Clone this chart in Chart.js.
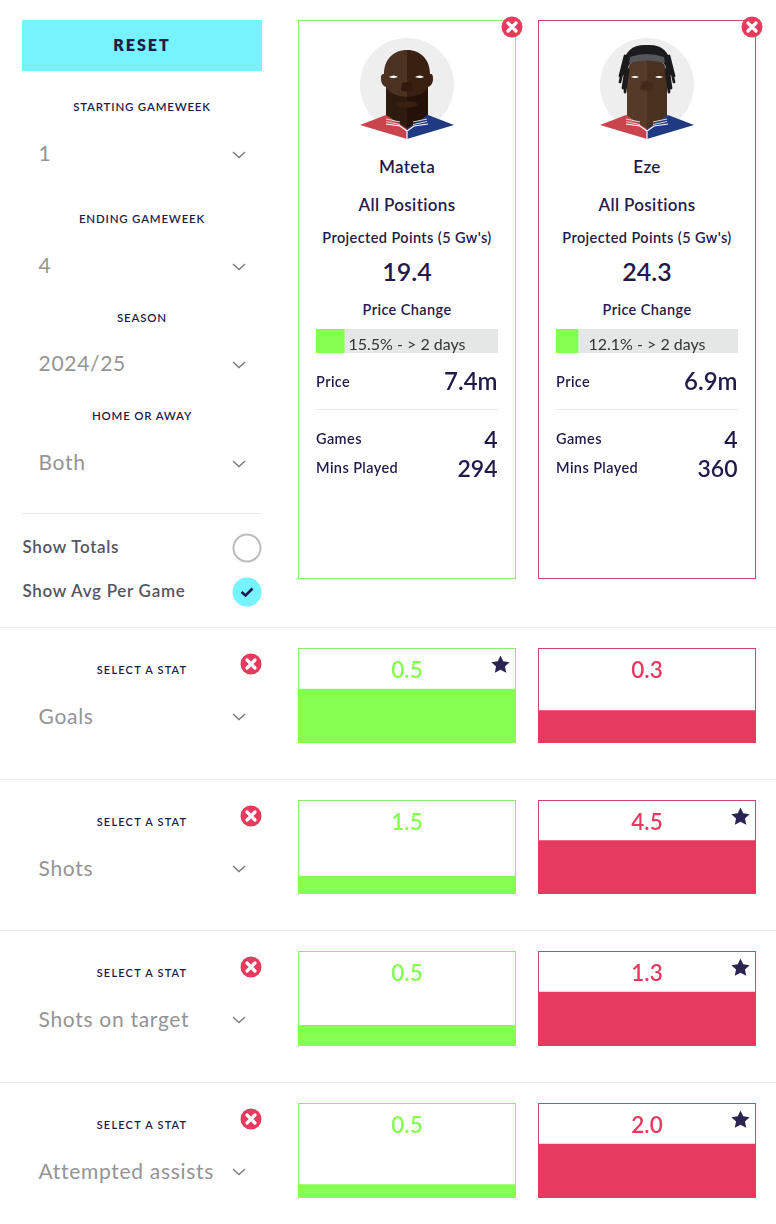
<!DOCTYPE html>
<html>
<head>
<meta charset="utf-8">
<title>Player comparison</title>
<script src="https://cdn.jsdelivr.net/npm/chart.js@4"></script>
<style>
  html, body { margin: 0; padding: 0; background: #fff; }
  #page { position: relative; width: 776px; height: 1224px; overflow: hidden; font-family: Lato, sans-serif; color: #1f1b4b; }
  .t { position: absolute; white-space: nowrap; transform: translateY(-50%); line-height: 1; }
  .c { transform: translate(-50%, -50%); }
  .r { transform: translate(-100%, -50%); }
  .cap { font-size: 11.5px; font-weight: 600; letter-spacing: .8px; }
  .capsm { font-size: 11px; font-weight: 600; letter-spacing: 1.2px; }
  .sel { font-size: 21px; color: #949494; letter-spacing: .7px; }
  .opt { font-size: 17px; font-weight: 600; color: #55555f; letter-spacing: .7px; }
  .name { font-size: 17px; font-weight: 600; letter-spacing: .35px; }
  .lbl { font-size: 14.5px; font-weight: 600; letter-spacing: .4px; }
  .big { font-size: 25px; font-weight: 600; }
  .mid { font-size: 24px; font-weight: 600; }
  .val { font-size: 23px; font-weight: 600; }
  .line { position: absolute; height: 1px; background: #e9e9e9; }
  .card { position: absolute; box-sizing: border-box; border: 1.5px solid; }
  .cell { position: absolute; box-sizing: border-box; border: 1.5px solid; }
  canvas { position: absolute; display: block; }
  svg { position: absolute; overflow: visible; }
</style>
</head>
<body>
<div id="page"></div>
<svg width="0" height="0" style="position:absolute">
  <defs>
    <symbol id="closeBtn" viewBox="0 0 22 22">
      <circle cx="11" cy="11" r="10.5" fill="#e63a5e"/>
      <path d="M7 7l8 8M15 7l-8 8" stroke="#fff" stroke-width="3.2" stroke-linecap="round"/>
    </symbol>
    <symbol id="star" viewBox="0 0 20 20">
      <path d="M10 .5l2.9 6.2 6.7.8-4.9 4.6 1.3 6.7L10 15.500l-6 3.300 1.300-6.700L.4 7.500l6.700-.8z" fill="#2c2450"/>
    </symbol>
    <symbol id="chev" viewBox="0 0 14 8">
      <path d="M1 1l6 5.500L13 1" fill="none" stroke="#77777d" stroke-width="1.300"/>
    </symbol>
    <symbol id="kit" viewBox="0 0 94 102">
      <path d="M47 91L26 77 0 87l47 14z" fill="#c8454d"/>
      <path d="M47 91l21-14 26 10-47 14z" fill="#1f3a80"/>
      <path d="M26 81l14 3M26 83.500l14 3M67 81l-14 3M67 83.500l-14 3" fill="none" stroke="#f4e6e6" stroke-width=".9"/>
      <path d="M26 86l14 2 7 5 7-5 14-2M47 93v8" fill="none" stroke="#fff" stroke-width="1.200"/>
    </symbol>
    <symbol id="face1" viewBox="0 0 94 102">
      <circle cx="47" cy="47" r="47" fill="#eeeeee"/>
      <path d="M47 12C33 12 24 22 24 36c-3 0-3 2-3 5 0 4 2 7 5 8v29l21 14z" fill="#4c3223"/>
      <path d="M47 12c14 0 23 10 23 24 3 0 3 2 3 5 0 4-2 7-5 8v29L47 92z" fill="#3a2011"/>
      <path d="M26 50c5 6 11 8 21 9v31L26 77z" fill="#2d1b10"/>
      <path d="M68 50c-5 6-11 8-21 9v31l21-13z" fill="#241208"/>
      <path d="M36 66c5-4 17-4 22 0-4 5-18 5-22 0z" fill="#3a2011"/>
      <path d="M42 45c2-1 8-1 10 0l1 7c-3 2-9 2-12 0z" fill="#32190d"/>
      <path d="M29 39q5-3 9 0-5 2-9 0zM55 39q5-3 9 0-4 2-9 0z" fill="#fff"/>
      <use href="#kit" width="94" height="102"/>
    </symbol>
    <symbol id="face2" viewBox="0 0 94 102">
      <circle cx="47" cy="47" r="47" fill="#eeeeee"/>
      <path d="M47 18c-13 0-20 8-20 20-2 0-3 2-3 4 0 4 2 7 3 8v28l20 14z" fill="#553a28"/>
      <path d="M47 18c13 0 20 8 20 20 2 0 3 2 3 4 0 4-2 7-3 8v28L47 92z" fill="#4a301f"/>
      <path d="M47 7C33 6 25 13 23 26l-1 12 5-3c0-6 3-11 9-14 7-2 15-2 22 0 6 3 9 8 9 14l5 3-1-12C69 13 61 6 47 7z" fill="#1b1a1c"/>
      <path d="M25 18l-5 20M24 26l-4 18M26 30l-3 20M28 32l-3 22M69 18l5 20M70 26l4 18M68 30l3 20M66 32l3 22" fill="none" stroke="#1b1a1c" stroke-width="2.800" stroke-linecap="round"/>
      <path d="M30 19q17-6 34 0l1 6q-18-5-36 0z" fill="#55565c"/>
      <path d="M42 44c2-1 8-1 10 0l2 7c-3 2-11 2-14 0z" fill="#442a1a"/>
      <path d="M31 39q4-2 8 0-4 2-8 0zM55 39q4-2 8 0-4 2-8 0z" fill="#fff"/>
      <use href="#kit" width="94" height="102"/>
    </symbol>
  </defs>
</svg>

<script>
// --------------------- Data ---------------------
const playerNames = ["Mateta", "Eze"];
const positionLabels = ["All Positions", "All Positions"];
const projectedPoints = ["19.4", "24.3"];
const priceChangePct = [15.5, 12.1];
const priceChangeText = ["15.5% - > 2 days", "12.1% - > 2 days"];
const prices = ["7.4m", "6.9m"];
const games = ["4", "4"];
const minsPlayed = ["294", "360"];

const statNames = ["Goals", "Shots", "Shots on target", "Attempted assists"];
const matetaValues = [0.5, 1.5, 0.5, 0.5];
const ezeValues = [0.3, 4.5, 1.3, 2.0];

const filterLabels = ["STARTING GAMEWEEK", "ENDING GAMEWEEK", "SEASON", "HOME OR AWAY"];
const filterValues = ["1", "4", "2024/25", "Both"];

// --------------------- Layout ---------------------
const GREEN = "#84ff52", PINK = "#e63a5e";
const GREEN_LINE = "#8fe872", PINK_LINE = "#cf4470";
const cardLeft = [298, 538];
const filterCapY = [107, 219, 318, 416];
const filterValY = [153, 265, 363, 462];
const statTop = [648, 800, 951, 1103];
const statHeight = [95, 94, 95, 95];
const dividerY = [779, 930, 1082];
const HEADROOM = 95 / 54;  // the larger bar fills 54 of the 95px box

const page = document.getElementById("page");

function text(str, x, y, cls, extra) {
  const el = document.createElement("div");
  el.className = "t " + cls;
  el.textContent = str;
  el.style.left = x + "px";
  el.style.top = y + "px";
  if (extra) Object.assign(el.style, extra);
  page.appendChild(el);
  return el;
}

function line(x, y, w) {
  const el = document.createElement("div");
  el.className = "line";
  el.style.cssText = `left:${x}px;top:${y}px;width:${w}px`;
  page.appendChild(el);
}

function icon(id, x, y, w, h) {
  page.insertAdjacentHTML("beforeend",
    `<svg style="left:${x}px;top:${y}px;z-index:5" width="${w}" height="${h}"><use href="#${id}" width="${w}" height="${h}"/></svg>`);
}

function makeCanvas(parent, x, y, w, h) {
  const cv = document.createElement("canvas");
  cv.width = w;
  cv.height = h;
  cv.style.cssText = `left:${x}px;top:${y}px;width:${w}px;height:${h}px`;
  parent.appendChild(cv);
  return cv;
}

// one bar that fills the whole width of its canvas
function barChart(cv, value, max, color, horizontal) {
  return new Chart(cv.getContext("2d"), {
    type: "bar",
    data: {
      labels: [""],
      datasets: [{ data: [value], backgroundColor: color, borderWidth: 0, barPercentage: 1, categoryPercentage: 1 }]
    },
    options: {
      indexAxis: horizontal ? "y" : "x",
      responsive: false,
      animation: false,
      layout: { padding: 0 },
      scales: {
        x: horizontal ? { display: false, min: 0, max: max } : { display: false },
        y: horizontal ? { display: false } : { display: false, min: 0, max: max }
      },
      plugins: { legend: { display: false }, tooltip: { enabled: false } }
    }
  });
}

// --------------------- Left column ---------------------
const reset = document.createElement("div");
reset.style.cssText = "position:absolute;left:22px;top:20px;width:240px;height:51px;background:#77f2ff";
page.appendChild(reset);
text("RESET", 142, 45, "c", { fontSize: "16px", fontWeight: 800, letterSpacing: "2px" });

filterLabels.forEach((lab, i) => {
  text(lab, 142, filterCapY[i], "c cap");
  text(filterValues[i], 38.5, filterValY[i] - 1, "sel");
  icon("chev", 232, filterValY[i] - 2, 14, 8);
});

line(22, 513, 240);
text("Show Totals", 22.5, 546, "opt");
text("Show Avg Per Game", 22.5, 590, "opt");
page.insertAdjacentHTML("beforeend", `
  <svg style="left:232px;top:533px" width="30" height="74">
    <circle cx="15" cy="15" r="13.500" fill="#fff" stroke="#bcbcbc" stroke-width="2"/>
    <circle cx="15" cy="59" r="14.500" fill="#77f2ff"/>
    <path d="M9.500 59l4 3.500 7-7" fill="none" stroke="#1f1b4b" stroke-width="2.600"/>
  </svg>`);

// --------------------- Player cards ---------------------
playerNames.forEach((name, i) => {
  const x = cardLeft[i];
  const mid = x + 109, left = x + 18, right = x + 199.5;
  const card = document.createElement("div");
  card.className = "card";
  card.style.cssText = `left:${x}px;top:20px;width:218px;height:559px;border-color:${i ? PINK_LINE : GREEN_LINE}`;
  page.appendChild(card);
  icon("closeBtn", x + 203, 16, 22, 22);
  icon(i ? "face2" : "face1", x + 62, 38, 94, 102);

  text(name, mid, 166, "c name");
  text(positionLabels[i], mid, 204, "c name");
  text("Projected Points (5 Gw's)", mid, 238, "c lbl");
  text(projectedPoints[i], mid, 271, "c big");
  text("Price Change", mid, 310, "c lbl");

  const track = document.createElement("div");
  track.style.cssText = `position:absolute;left:${left}px;top:329px;width:182px;height:24px;background:#e5e7e6`;
  page.appendChild(track);
  barChart(makeCanvas(track, 0, 0, 182, 24), priceChangePct[i], 100, GREEN, true);
  text(priceChangeText[i], mid, 344, "c", { fontSize: "16px", color: "#333" });

  text("Price", left, 382, "lbl");
  text(prices[i], right, 381, "r mid");
  line(left, 409, 182);
  text("Games", left, 439, "lbl");
  text(games[i], right, 439, "r val");
  text("Mins Played", left, 468, "lbl");
  text(minsPlayed[i], right, 468, "r val");
});

// --------------------- Stat rows ---------------------
dividerY.forEach(y => line(0, y, 776));
line(0, 627, 776);

function statCell(x, top, h, value, max, fill, border, isBest) {
  const cell = document.createElement("div");
  cell.className = "cell";
  cell.style.cssText = `left:${x}px;top:${top}px;width:218px;height:${h}px;border-color:${border}`;
  page.appendChild(cell);
  barChart(makeCanvas(cell, -1.5, -1.5, 218, h), value, max, fill, false);
  text(value.toFixed(1), x + 109, top + 22, "c", { fontSize: "22.5px", fontWeight: 600, color: fill === GREEN ? GREEN : PINK });
  if (isBest) icon("star", x + 193, top + 7, 19, 19);
}

statNames.forEach((stat, i) => {
  const top = statTop[i], h = statHeight[i];
  text("SELECT A STAT", 142, top + 21, "c capsm");
  icon("closeBtn", 240, top + 5, 22, 22);
  text(stat, 38.5, top + 67, "sel");
  icon("chev", 232, top + 65, 14, 8);

  const a = matetaValues[i], b = ezeValues[i];
  const max = Math.max(a, b) * HEADROOM;
  statCell(cardLeft[0], top, h, a, max, GREEN, GREEN_LINE, a > b);
  statCell(cardLeft[1], top, h, b, max, PINK, PINK_LINE, b > a);
});
</script>
</body>
</html>
